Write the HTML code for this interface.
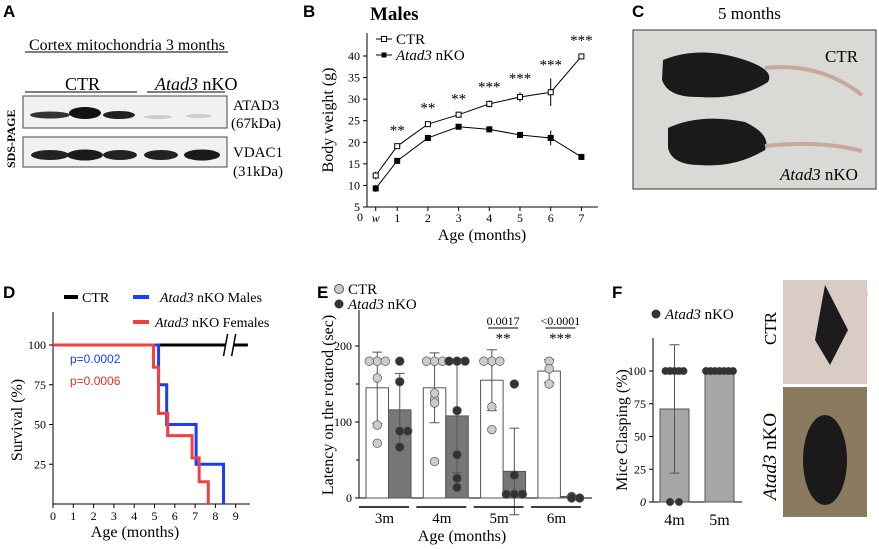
<!DOCTYPE html>
<html><head><meta charset="utf-8"><style>
body{margin:0;background:#fff}
svg{display:block;font-family:"Liberation Serif",serif}
.pl{font-family:"Liberation Sans",sans-serif;font-weight:bold;font-size:17px}
</style></head><body>
<svg id="s" width="879" height="549" viewBox="0 0 879 549" xmlns="http://www.w3.org/2000/svg">
<g>
<text class="pl" x="3" y="17">A</text>
<text x="29" y="50" font-size="16">Cortex mitochondria 3 months</text>
<line x1="25" y1="52" x2="228" y2="52" stroke="#000"/>
<text x="65" y="90" font-size="18">CTR</text>
<line x1="25" y1="92" x2="137" y2="92" stroke="#000"/>
<text x="155" y="90" font-size="18"><tspan font-style="italic">Atad3</tspan> nKO</text>
<line x1="147" y1="92" x2="225" y2="92" stroke="#000"/>
<rect x="23" y="96" width="204" height="32" fill="#f1f1f1" stroke="#444"/>
<ellipse cx="50" cy="115" rx="20" ry="3.5" fill="#333"/>
<ellipse cx="85" cy="113" rx="16" ry="6" fill="#111"/>
<ellipse cx="119" cy="115" rx="16" ry="4" fill="#222"/>
<ellipse cx="158" cy="117" rx="14" ry="2" fill="#ccc"/>
<ellipse cx="199" cy="116" rx="13" ry="2" fill="#ccc"/>
<rect x="23" y="137" width="204" height="30" fill="#f1f1f1" stroke="#444"/>
<ellipse cx="50" cy="155" rx="19" ry="5" fill="#222"/>
<ellipse cx="85" cy="155" rx="18" ry="5.5" fill="#1a1a1a"/>
<ellipse cx="120" cy="155" rx="17" ry="5" fill="#222"/>
<ellipse cx="161" cy="155" rx="17" ry="5" fill="#222"/>
<ellipse cx="202" cy="155" rx="18" ry="5.5" fill="#1a1a1a"/>
<text x="233" y="110" font-size="15">ATAD3</text>
<text x="231" y="128" font-size="15">(67kDa)</text>
<text x="233" y="157" font-size="15">VDAC1</text>
<text x="233" y="176" font-size="15">(31kDa)</text>
<text transform="translate(15,168) rotate(-90)" font-size="12" font-weight="bold">SDS-PAGE</text>
</g>
<g>
<text class="pl" x="632" y="17">C</text>
<text x="718" y="19" font-size="17">5 months</text>
<rect x="633" y="30" width="243" height="159" fill="#d9d9d6" stroke="#333"/>
<path d="M663,60 Q700,45 745,60 Q775,70 768,82 Q740,100 700,97 Q668,98 662,80 Z" fill="#1a1a1a"/>
<path d="M765,68 Q820,62 862,95" stroke="#c8a89a" stroke-width="4" fill="none"/>
<path d="M668,128 Q700,113 745,122 Q772,135 765,150 Q735,168 700,165 Q672,165 668,148 Z" fill="#1a1a1a"/>
<path d="M765,146 Q820,140 862,151" stroke="#c8a89a" stroke-width="4" fill="none"/>
<text x="825" y="62" font-size="17">CTR</text>
<text x="780" y="180" font-size="17"><tspan font-style="italic">Atad3</tspan> nKO</text>
</g>
<g>
<text class="pl" x="855" y="298">G</text>
<rect x="783" y="280" width="84" height="104" fill="#d8ccc4"/>
<path d="M825,285 L848,330 L830,365 L815,340 Z" fill="#1c1c1c"/>
<rect x="783" y="387" width="84" height="130" fill="#8a7a5e"/>
<ellipse cx="825" cy="460" rx="22" ry="45" fill="#1a1a1a"/>
<text transform="translate(776,345) rotate(-90)" font-size="17">CTR</text>
<text transform="translate(776,500) rotate(-90)" font-size="19"><tspan font-style="italic">Atad3</tspan> nKO</text>
</g>
<g id="gB"></g>
<g id="gD"></g>
<g id="gE"></g>
<g id="gF"></g>
</svg>
<script>
const bMonths=[0.3,1,2,3,4,5,6,7];
const bCtr=[12.3,19.1,24.2,26.4,28.9,30.5,31.6,39.9];
const bCtrErr=[0.9,0.5,0.6,0.5,0.8,1.1,3.2,0.6];
const bKo=[9.3,15.7,21.0,23.6,23.0,21.7,21.0,16.6];
const bKoErr=[0.8,0.6,0.4,0.5,0.7,0.5,1.7,0.3];
const bStars=["","**","**","**","***","***","***","***"];
const bYTicks=[5,10,15,20,25,30,35,40];
const dMalesT=[0,5.2,5.6,7.05,8.4];
const dMalesS=[100,75,50,25,0];
const dFemT=[0,4.95,5.2,5.65,6.85,7.2,7.65];
const dFemS=[100,86,57,43,29,14,0];
const dYTicks=[25,50,75,100];
const dXTicks=[0,1,2,3,4,5,6,7,8,9];
const eGroups=["3m","4m","5m","6m"];
const eCtrMean=[145,145,155,167];
const eCtrSd=[47,46,40,15];
const eKoMean=[116,108,35,2];
const eKoSd=[48,75,57,1];
const eCtrPts=[[180,180,180,158,96,72],[180,180,180,130,138,125,48],[180,180,180,120,90],[180,170,150]];
const eKoPts=[[180,153,88,88,67],[180,180,180,115,57,26,14],[150,30,5,5,5],[2,0,0]];
const eYTicks=[0,100,200];
const fGroups=["4m","5m"];
const fMean=[71,100];
const fSd=[49,0];
const fPts=[[100,100,100,100,100,0,0],[100,100,100,100,100,100,100]];
const fYTicks=[0,25,50,75,100];

const NS="http://www.w3.org/2000/svg";
function mk(p,t,a,txt){const e=document.createElementNS(NS,t);for(const k in a)e.setAttribute(k,a[k]);if(txt!==undefined)e.textContent=txt;p.appendChild(e);return e;}

(function(){
const g=document.getElementById('gB');
const x=m=>366.5+30.7*m, y=v=>56+(40-v)*4.314;
let t=mk(g,'text',{class:'pl',x:303,y:17});t.textContent='B';


t=mk(g,'text',{x:370,y:20,'font-size':19,'font-weight':'bold'},'Males');


let a=mk(g,'path',{d:`M367,33 V207 H598`,stroke:'#000',fill:'none'});


bYTicks.forEach(v=>{mk(g,'line',{x1:363,x2:367,y1:y(v),y2:y(v),stroke:'#000'});
 t=mk(g,'text',{x:360,y:y(v)+4,'font-size':12,'text-anchor':'end'},v);
 
 });
t=mk(g,'text',{x:363,y:221,'font-size':12,'text-anchor':'end'},'0');
bMonths.forEach((m,i)=>{mk(g,'line',{x1:x(m),x2:x(m),y1:207,y2:211,stroke:'#000'});
 t=mk(g,'text',{x:x(m),y:222,'font-size':12,'text-anchor':'middle','font-style':i==0?'italic':'normal'},i==0?'w':m);
 
 });
t=mk(g,'text',{x:482,y:240,'font-size':16,'text-anchor':'middle'},'Age  (months)');


t=mk(g,'text',{transform:'translate(333,120) rotate(-90)','font-size':16,'text-anchor':'middle'},'Body weight (g)');


[[bCtr,bCtrErr,'#fff','ctr'],[bKo,bKoErr,'#000','ko']].forEach(([d,e,f,n])=>{
 let l=mk(g,'polyline',{points:d.map((v,i)=>x(bMonths[i])+','+y(v)).join(' '),fill:'none',stroke:'#000'});
 
 
 d.forEach((v,i)=>{mk(g,'line',{x1:x(bMonths[i]),x2:x(bMonths[i]),y1:y(v-e[i]),y2:y(v+e[i]),stroke:'#000'});
  let r=mk(g,'rect',{x:x(bMonths[i])-2.5,y:y(v)-2.5,width:5,height:5,fill:f,stroke:'#000'});
  
  });
});
bStars.forEach((s,i)=>{if(s){t=mk(g,'text',{x:x(bMonths[i]),y:y(bCtr[i]+bCtrErr[i])-9,'font-size':15,'text-anchor':'middle'},s);
 
 }});
mk(g,'line',{x1:376,x2:392,y1:39,y2:39,stroke:'#000'});mk(g,'rect',{x:381.5,y:36.5,width:5,height:5,fill:'#fff',stroke:'#000'});
t=mk(g,'text',{x:396,y:44,'font-size':15},'CTR');


mk(g,'line',{x1:376,x2:392,y1:55,y2:55,stroke:'#000'});mk(g,'rect',{x:381.5,y:52.5,width:5,height:5,fill:'#000'});
t=mk(g,'text',{x:396,y:60,'font-size':15});t.innerHTML='<tspan font-style="italic">Atad3</tspan> nKO';


})();

(function(){
const g=document.getElementById('gD');
const x=m=>53+20.3*m, y=v=>504-1.59*v;
let t=mk(g,'text',{class:'pl',x:3,y:298},'D');


mk(g,'path',{d:'M53,312 V504 H250',stroke:'#000',fill:'none'});
dYTicks.forEach(v=>{mk(g,'line',{x1:49,x2:53,y1:y(v),y2:y(v),stroke:'#000'});
 t=mk(g,'text',{x:46,y:y(v)+4,'font-size':12,'text-anchor':'end'},v);
 
 });
dXTicks.forEach(m=>{mk(g,'line',{x1:x(m),x2:x(m),y1:504,y2:508,stroke:'#000'});
 t=mk(g,'text',{x:x(m),y:520,'font-size':12,'text-anchor':'middle'},m);
 
 });
t=mk(g,'text',{x:135,y:537,'font-size':16,'text-anchor':'middle'},'Age  (months)');


t=mk(g,'text',{transform:'translate(22,420) rotate(-90)','font-size':16,'text-anchor':'middle'},'Survival (%)');


let c=mk(g,'path',{d:`M${x(0)},${y(100)} H${x(8.5)} M${x(8.9)},${y(100)} H${x(9.6)}`,stroke:'#000','stroke-width':3});


mk(g,'path',{d:`M${x(8.4)},${y(93)} L${x(8.6)},${y(107)} M${x(8.8)},${y(93)} L${x(9)},${y(107)}`,stroke:'#000','stroke-width':1.5});
function step(T,S){let d=`M${x(T[0])},${y(S[0])}`;for(let i=1;i<T.length;i++)d+=` H${x(T[i])} V${y(S[i])}`;return d;}
c=mk(g,'path',{d:step(dMalesT,dMalesS),stroke:'#1a3cff','stroke-width':3,fill:'none'});


c=mk(g,'path',{d:step(dFemT,dFemS),stroke:'#f04040','stroke-width':3,fill:'none'});


t=mk(g,'text',{x:70,y:363,'font-size':12,fill:'#1a3cff','font-family':'Liberation Sans'},'p=0.0002');


t=mk(g,'text',{x:70,y:385,'font-size':12,fill:'#e03020','font-family':'Liberation Sans'},'p=0.0006');


mk(g,'line',{x1:64,x2:78,y1:297,y2:297,stroke:'#000','stroke-width':4});
t=mk(g,'text',{x:82,y:302,'font-size':14},'CTR');


mk(g,'line',{x1:133,x2:149,y1:297,y2:297,stroke:'#1a3cff','stroke-width':4});
t=mk(g,'text',{x:160,y:302,'font-size':14});t.innerHTML='<tspan font-style="italic">Atad3</tspan> nKO Males';


mk(g,'line',{x1:133,x2:149,y1:322,y2:322,stroke:'#f04040','stroke-width':4});
t=mk(g,'text',{x:155,y:327,'font-size':14});t.innerHTML='<tspan font-style="italic">Atad3</tspan> nKO Females';


})();

(function(){
const g=document.getElementById('gE');
const y=v=>498-0.76*v, gx=i=>366+57.3*i, bw=22.5;
let t=mk(g,'text',{class:'pl',x:317,y:298},'E');


mk(g,'path',{d:'M359,310 V498 H592',stroke:'#000',fill:'none'});
eYTicks.forEach(v=>{mk(g,'line',{x1:355,x2:359,y1:y(v),y2:y(v),stroke:'#000'});
 t=mk(g,'text',{x:352,y:y(v)+4,'font-size':12,'text-anchor':'end'},v);
 
 });
[50,150].forEach(v=>mk(g,'line',{x1:356,x2:359,y1:y(v),y2:y(v),stroke:'#000'}));
t=mk(g,'text',{transform:'translate(333,405) rotate(-90)','font-size':16,'text-anchor':'middle'},'Latency on the rotarod (sec)');


eGroups.forEach((gn,i)=>{
 const x0=gx(i);
 [[eCtrMean,eCtrSd,eCtrPts,'#fff','#ccc',x0,'ctr'],[eKoMean,eKoSd,eKoPts,'#777','#333',x0+bw,'ko']].forEach(([m,s,p,f,pf,bx,n])=>{
  let r=mk(g,'rect',{x:bx,y:y(m[i]),width:bw,height:498-y(m[i]),fill:f,stroke:'#555'});
  
  
  const cx=bx+bw/2;
  mk(g,'path',{d:`M${cx},${y(m[i]-s[i])} V${y(m[i]+s[i])} M${cx-5},${y(m[i]+s[i])} H${cx+5} M${cx-5},${y(m[i]-s[i])} H${cx+5}`,stroke:'#555',fill:'none'});
  const seen={};
  p[i].forEach(v=>{const k=seen[v]||0;seen[v]=k+1;const off=(k%2?1:-1)*Math.ceil(k/2)*8;
   let c=mk(g,'circle',{cx:cx+off,cy:y(v),r:4.3,fill:pf,stroke:'#555','stroke-width':0.7});
   
   });
 });
 mk(g,'line',{x1:x0-7,x2:x0+bw*2-2,y1:507,y2:507,stroke:'#000','stroke-width':1.5});
 t=mk(g,'text',{x:x0+bw-4,y:523,'font-size':15,'text-anchor':'middle'},gn);
 
 
});
t=mk(g,'text',{x:462,y:541,'font-size':16,'text-anchor':'middle'},'Age  (months)');


[[2,'0.0017','**'],[3,'<0.0001','***']].forEach(([i,p,s])=>{const cx=gx(i)+bw;
 mk(g,'line',{x1:cx-15,x2:cx+15,y1:328,y2:328,stroke:'#000'});
 t=mk(g,'text',{x:cx,y:325,'font-size':12,'text-anchor':'middle'},p);
 
 
 t=mk(g,'text',{x:cx,y:343,'font-size':15,'text-anchor':'middle'},s);
 
 });
mk(g,'circle',{cx:339,cy:289,r:4.5,fill:'#ccc',stroke:'#555'});
t=mk(g,'text',{x:348,y:294,'font-size':15},'CTR');


mk(g,'circle',{cx:339,cy:304,r:4.5,fill:'#333'});
t=mk(g,'text',{x:348,y:309,'font-size':15});t.innerHTML='<tspan font-style="italic">Atad3</tspan> nKO';


})();

(function(){
const g=document.getElementById('gF');
const y=v=>502-1.31*v, gx=i=>660+45*i, bw=29;
let t=mk(g,'text',{class:'pl',x:612,y:298},'F');


mk(g,'path',{d:'M653,338 V502 H742',stroke:'#000',fill:'none'});
fYTicks.forEach(v=>{mk(g,'line',{x1:649,x2:653,y1:y(v),y2:y(v),stroke:'#000'});
 t=mk(g,'text',{x:646,y:y(v)+4,'font-size':12,'text-anchor':'end','font-style':v==0?'italic':'normal'},v);
 
 });
t=mk(g,'text',{transform:'translate(627,430) rotate(-90)','font-size':16,'text-anchor':'middle'},'Mice Clasping (%)');


fGroups.forEach((gn,i)=>{const x0=gx(i),cx=x0+bw/2;
 let r=mk(g,'rect',{x:x0,y:y(fMean[i]),width:bw,height:502-y(fMean[i]),fill:'#a6a6a6',stroke:'#555'});
 
 
 if(fSd[i])mk(g,'path',{d:`M${cx},${y(fMean[i]-fSd[i])} V${y(fMean[i]+fSd[i])} M${cx-5},${y(fMean[i]+fSd[i])} H${cx+5} M${cx-5},${y(fMean[i]-fSd[i])} H${cx+5}`,stroke:'#555',fill:'none'});
 const seen={};
 fPts[i].forEach(v=>{const k=seen[v]||0;seen[v]=k+1;const n=fPts[i].filter(q=>q==v).length;const off=(k-(n-1)/2)*(n>2?4.5:9);
  let c=mk(g,'circle',{cx:cx+off,cy:y(v),r:3.9,fill:'#333'});
  
  });
 t=mk(g,'text',{x:cx,y:525,'font-size':16,'text-anchor':'middle'},gn);
 
 
});
mk(g,'circle',{cx:656,cy:314,r:4.5,fill:'#333'});
t=mk(g,'text',{x:665,y:319,'font-size':15});t.innerHTML='<tspan font-style="italic">Atad3</tspan> nKO';


})();
</script>
</body></html>
